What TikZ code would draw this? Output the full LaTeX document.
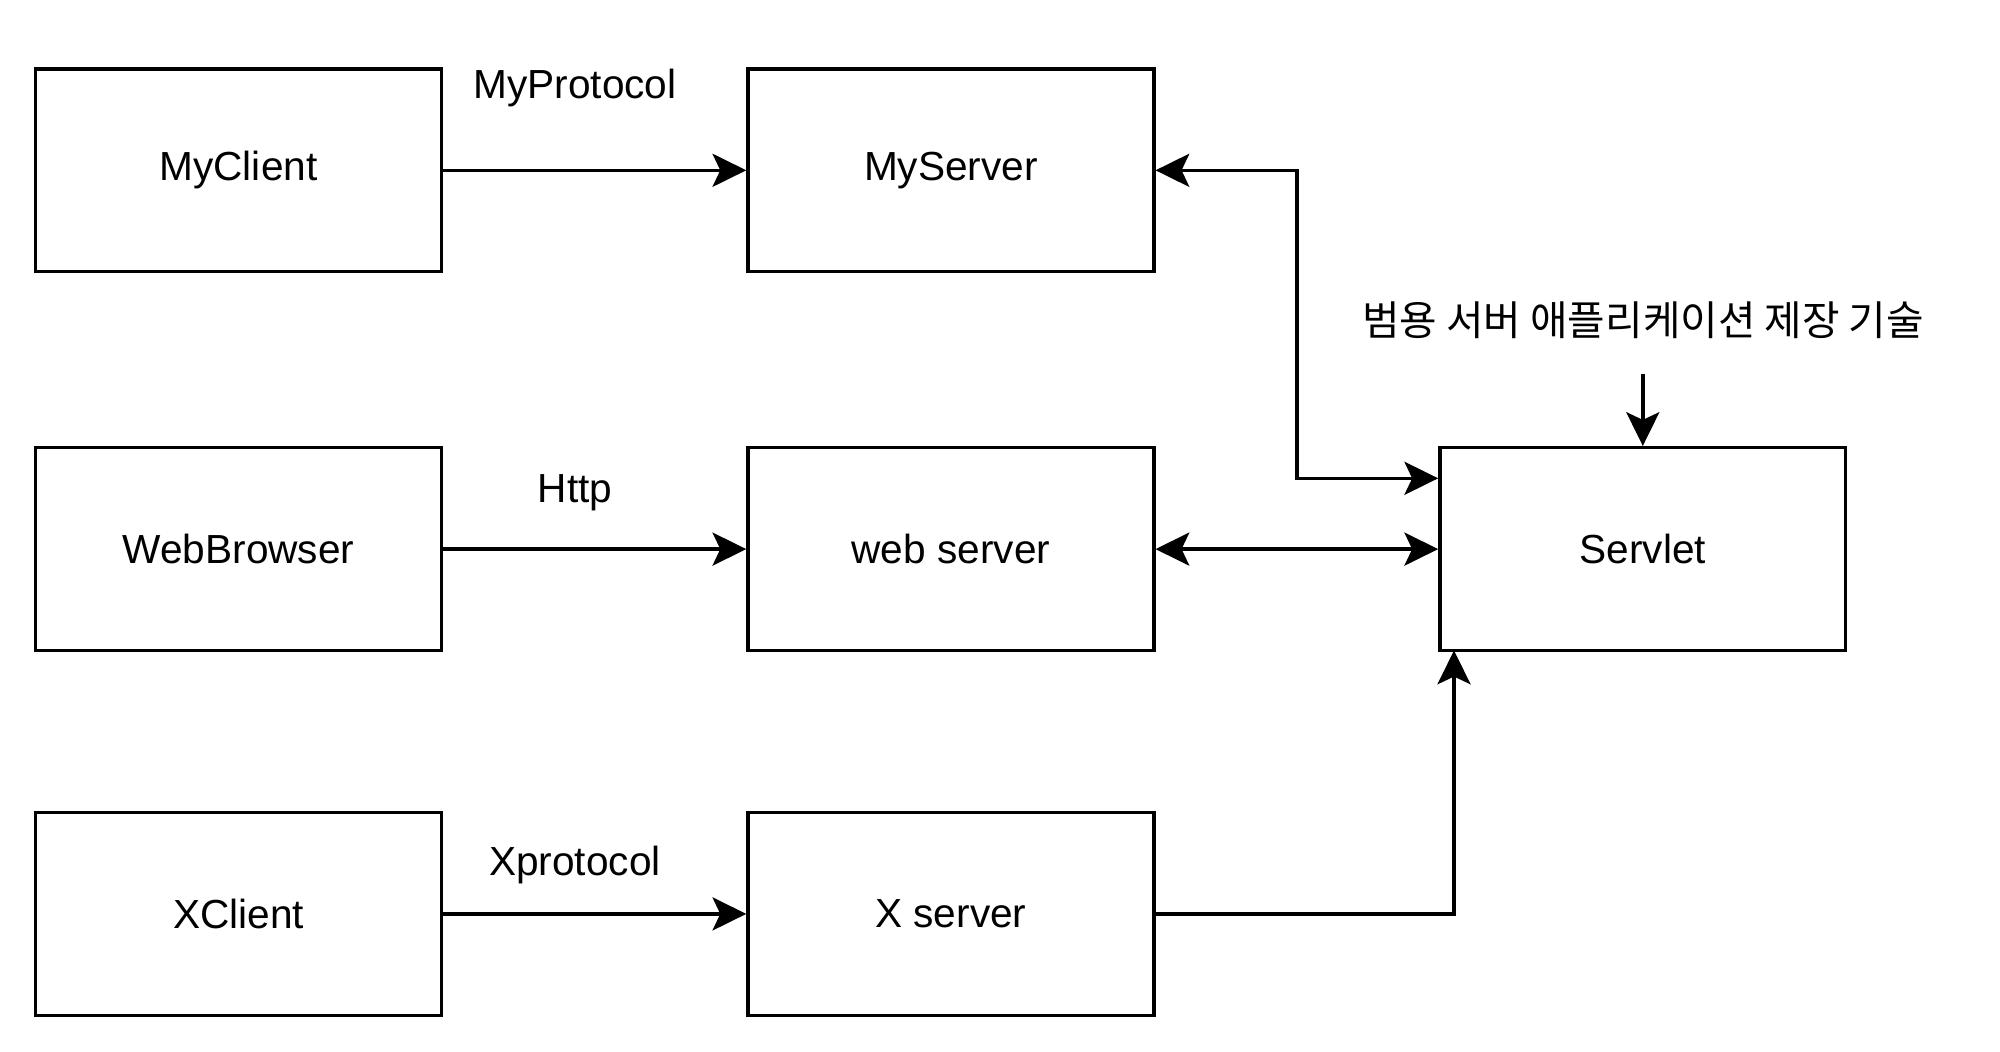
\documentclass[tikz,border=0pt]{standalone}
\usepackage{fontspec}
\setmainfont{Liberation Sans}
\newfontfamily\krfont{Noto Sans CJK KR}
\usetikzlibrary{arrows.meta}
\begin{document}
\begin{tikzpicture}[x=0.01cm,y=-0.01cm,
  box/.style={draw=black, line width=0.97pt, fill=white, minimum width=4.056cm,
              minimum height=2.028cm, inner sep=0pt,
              font=\fontsize{11.55pt}{13.9pt}\selectfont},
  lbl/.style={inner sep=0pt, font=\fontsize{11.55pt}{13.9pt}\selectfont},
  tip/.tip={Stealth[length=9.6pt, width=9.4pt, inset=2.2pt]},
  conn/.style={draw=black, line width=0.97pt}]
  \useasboundingbox (0,0) rectangle (2000,1051);
  \fill[white] (0,0) rectangle (2000,1051);

  % boxes
  \node[box] (myclient) at (238.5,170.3) {MyClient};
  \node[box] (myserver) at (950.9,170.3) {MyServer};
  \node[box] (browser)  at (238.5,549.1) {WebBrowser};
  \node[box] (webserver) at (950.9,549.1) {web server};
  \node[box] (xclient)  at (238.5,913.9) {XClient};
  \node[box] (xserver)  at (950.9,913.9) {X server};
  \node[box] (servlet)  at (1642.8,549.1) {Servlet};

  % protocol labels
  \node[lbl] (lmy)   at (575,88)  {MyProtocol};
  \node[lbl] (lhttp) at (575,493) {Http};
  \node[lbl] (lx)    at (575,865) {Xprotocol};

  % note above the servlet
  \node[lbl, font=\krfont\fontsize{11.6pt}{14pt}\selectfont] (note) at (1643,320)
    {범용 서버 애플리케이션 제장 기술};
  \coordinate (notefoot) at (1642.8,373.7);

  % client to server connectors
  \draw[conn, -tip] (myclient.east) -- (myserver.west);
  \draw[conn, -tip] (browser.east) -- (webserver.west);
  \draw[conn, -tip] (xclient.east) -- (xserver.west);

  % servers to servlet
  \coordinate (bend) at (1297,478.3);
  \draw[conn, tip-tip] (myserver.east) -| (bend) -- (bend -| servlet.west);
  \draw[conn, tip-tip] (webserver.east) -- (servlet.west);
  \coordinate (xup) at (1454,650.5);
  \draw[conn, -tip] (xserver.east) -| (xup);

  % note arrow
  \draw[conn, -tip] (notefoot) -- (servlet.north);
\end{tikzpicture}
\end{document}
